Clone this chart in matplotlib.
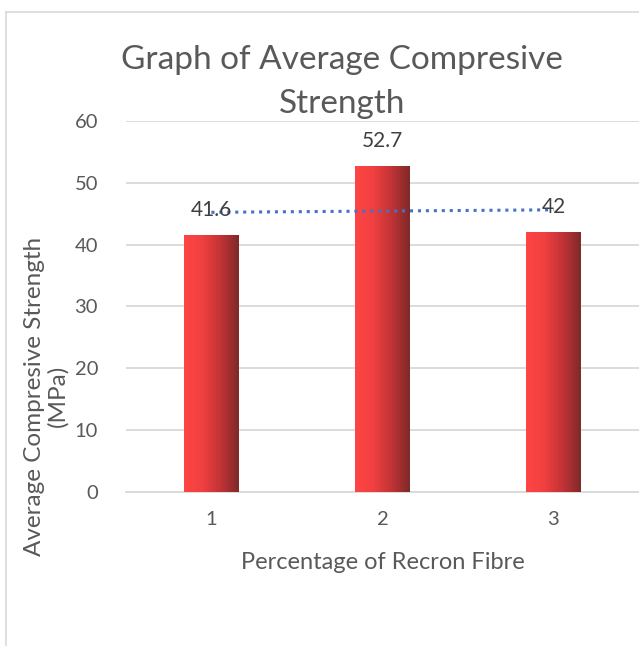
import numpy as np
import matplotlib
matplotlib.use("Agg")
import matplotlib.pyplot as plt
from matplotlib.colors import LinearSegmentedColormap
from matplotlib.lines import Line2D

categories = ["1", "2", "3"]
strength = [41.6, 52.7, 42]
labels = ["41.6", "52.7", "42"]

plt.rcParams['font.family'] = ['Lato', 'DejaVu Sans']
txt = '#595959'

fig = plt.figure(figsize=(6.39, 6.46), dpi=100)
ax = fig.add_axes([0.197, 0.2384, 0.803, 0.5743])

x = np.arange(1, len(categories) + 1)
bars = ax.bar(x, strength, width=0.32, color='none', zorder=3)

# horizontal gradient on each bar
cmap = LinearSegmentedColormap.from_list('rg', ['#FF4545', '#F04040', '#C23336', '#7E2929'])
grad = np.linspace(0, 1, 256).reshape(1, -1)
for b in bars:
    x0, w, h = b.get_x(), b.get_width(), b.get_height()
    im = ax.imshow(grad, cmap=cmap, aspect='auto', extent=[x0, x0 + w, 0, h],
                   zorder=3, interpolation='bicubic')
    im.set_clip_path(b)

# linear trendline
k, c = np.polyfit(x, strength, 1)
ax.plot(x, k * x + c, linestyle=(0, (1, 1.6)), color='#4472C4', lw=2.2, zorder=4)

for xi, v, lab in zip(x, strength, labels):
    ax.text(xi, v + 2.4, lab, ha='center', va='bottom', fontsize=15, color='#404040', zorder=5)

ax.set_xlim(0.5, 3.5)
ax.set_ylim(0, 60)
ax.set_yticks(range(0, 61, 10))
ax.set_xticks(x)
ax.set_xticklabels(categories)
ax.grid(axis='y', color='#D9D9D9', lw=1.3, zorder=0)
ax.set_axisbelow(True)
for s in ['top', 'right', 'left']:
    ax.spines[s].set_visible(False)
ax.spines['bottom'].set_color('#D9D9D9')
ax.spines['bottom'].set_linewidth(1.3)
ax.tick_params(axis='both', length=0, labelsize=14.5, colors=txt)
ax.tick_params(axis='y', pad=20)
ax.tick_params(axis='x', pad=14)

fig.text(0.535, 0.873, "Graph of Average Compresive\nStrength", ha='center', va='center',
         fontsize=24, color=txt, linespacing=1.55)
fig.text(0.599, 0.13, "Percentage of Recron Fibre", ha='center', va='center',
         fontsize=17, color=txt)
fig.text(0.072, 0.387, "Average Compresive Strength\n(MPa)", ha='center', va='center',
         rotation=90, fontsize=17.5, color=txt, linespacing=1.1)

# outer chart border (partially visible)
fig.add_artist(Line2D([0.0094, 0.0094], [0, 0.9814], color='#D9D9D9', lw=1.2, transform=fig.transFigure))
fig.add_artist(Line2D([0.0094, 1.0], [0.9814, 0.9814], color='#D9D9D9', lw=1.2, transform=fig.transFigure))

fig.savefig("out.png", dpi=100)
